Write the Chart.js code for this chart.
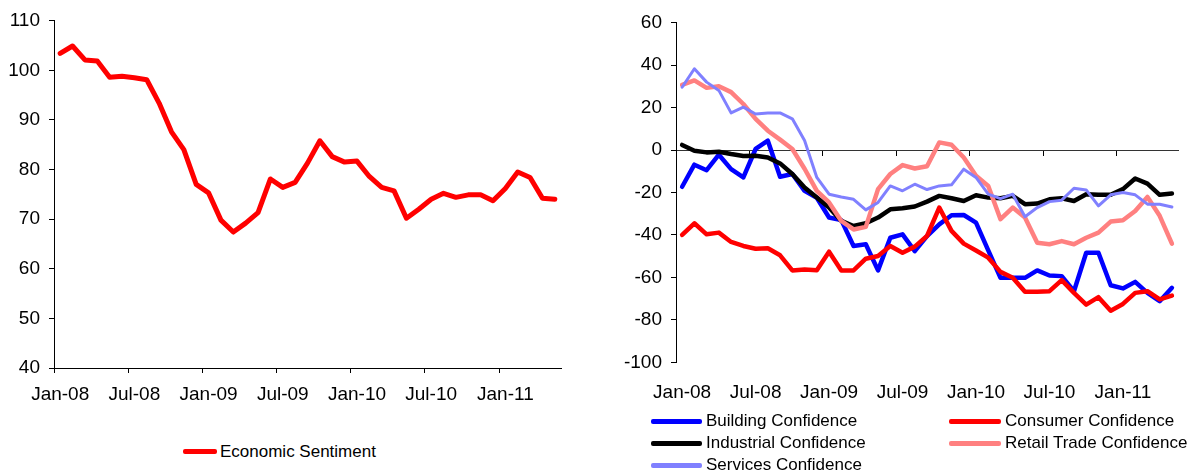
<!DOCTYPE html>
<html>
<head>
<meta charset="utf-8">
<script src="https://cdn.jsdelivr.net/npm/chart.js@4.4.1/dist/chart.umd.min.js"></script>
<style>
  html, body { margin: 0; padding: 0; background: #fff; }
  body { width: 1191px; height: 472px; position: relative; overflow: hidden; font-family: "Liberation Sans", Arial, sans-serif; }
  .cv { position: absolute; top: 0; }
  .lg { position: absolute; font-size: 17px; line-height: 22px; color: #000; white-space: nowrap; }
  .sw { position: absolute; height: 5px; border-radius: 2px; }
</style>
</head>
<body>
<canvas id="left" class="cv" style="left:0px" width="600" height="420"></canvas>
<canvas id="right" class="cv" style="left:600px" width="591" height="420"></canvas>
<div id="legends"></div>
<script>
// ---- Data ----
const months = ['Jan-08','Feb-08','Mar-08','Apr-08','May-08','Jun-08','Jul-08','Aug-08','Sep-08','Oct-08','Nov-08','Dec-08',
  'Jan-09','Feb-09','Mar-09','Apr-09','May-09','Jun-09','Jul-09','Aug-09','Sep-09','Oct-09','Nov-09','Dec-09',
  'Jan-10','Feb-10','Mar-10','Apr-10','May-10','Jun-10','Jul-10','Aug-10','Sep-10','Oct-10','Nov-10','Dec-10',
  'Jan-11','Feb-11','Mar-11','Apr-11','May-11'];

const economicSentiment = [103.4,104.9,102.1,101.9,98.6,98.8,98.5,98.1,93.4,87.6,84.0,77.0,75.3,69.8,67.4,69.2,71.3,78.1,76.4,77.4,
  81.3,85.8,82.6,81.5,81.7,78.6,76.4,75.7,70.2,72.0,74.0,75.2,74.4,74.9,74.9,73.7,76.2,79.5,78.4,74.2,74.0];

const buildingConfidence = [-17.3,-6.9,-9.5,-2.2,-9.0,-12.9,0.5,4.4,-12.6,-11.3,-19.2,-22.5,-31.8,-33.0,-45.2,-44.4,-56.7,-41.3,-39.7,-47.6,
  -40.5,-35.0,-30.7,-30.6,-34.2,-47.3,-60.2,-60.2,-60.2,-56.7,-59.1,-59.4,-66.5,-48.4,-48.4,-63.7,-65.2,-62.1,-67.3,-71.2,-64.9];

const consumerConfidence = [-40.0,-34.5,-39.7,-38.9,-43.3,-45.2,-46.5,-46.3,-49.6,-56.7,-56.3,-56.6,-47.9,-56.7,-56.7,-51.2,-49.9,-45.2,-48.4,-45.5,
  -40.5,-27.1,-38.1,-44.1,-47.3,-50.7,-57.4,-60.2,-66.8,-66.8,-66.5,-61.3,-67.3,-72.8,-69.3,-75.7,-72.5,-67.3,-66.5,-70.4,-68.6];

const industrialConfidence = [2.4,-0.3,-1.1,-0.8,-1.9,-2.8,-2.7,-3.5,-6.3,-11.3,-17.7,-22.4,-27.1,-33.4,-35.8,-34.5,-31.8,-27.9,-27.4,-26.6,
  -24.3,-21.6,-22.7,-24.0,-21.3,-22.4,-22.7,-21.6,-25.5,-25.2,-23.2,-22.7,-24.0,-20.8,-21.1,-21.1,-18.4,-13.4,-15.8,-21.1,-20.5];

const retailTradeConfidence = [30.7,32.8,29.3,30.1,27.3,21.7,14.7,9.1,4.9,0.5,-8.8,-19.2,-24.7,-33.4,-37.4,-36.2,-18.4,-11.3,-7.1,-8.7,
  -7.6,3.6,2.5,-3.5,-12.1,-16.9,-32.6,-27.1,-31.8,-43.7,-44.4,-42.9,-44.4,-41.3,-38.9,-33.7,-33.1,-28.7,-22.1,-31.0,-44.1];

const servicesConfidence = [29.6,38.3,32.0,28.1,17.5,20.2,17.0,17.5,17.5,14.7,4.5,-12.9,-20.8,-22.1,-23.2,-28.2,-24.7,-16.9,-19.2,-16.1,
  -18.6,-16.9,-16.4,-9.0,-12.9,-20.8,-22.9,-20.8,-31.4,-27.1,-24.3,-23.6,-18.0,-18.8,-26.3,-21.1,-20.0,-21.1,-25.5,-25.5,-26.8];

const leftSeriesNames = ['Economic Sentiment'];
const rightSeriesNames = ['Building Confidence','Consumer Confidence','Industrial Confidence','Retail Trade Confidence','Services Confidence'];

// ---- Styles ----
const FONT = '"Liberation Sans", Arial, sans-serif';
const tickFont = { family: FONT, size: 19 };
const AXIS = '#000';
const everySix = (c) => (c.index !== undefined && c.index % 6 === 0) ? AXIS : 'rgba(0,0,0,0)';
const labelEverySix = function (val, idx) { return idx % 6 === 0 ? this.getLabelForValue(val) : ''; };

function lineDs(label, data, color, width, order) {
  return { label, data, borderColor: color, backgroundColor: color, borderWidth: width,
    pointRadius: 0, pointHoverRadius: 0, tension: 0, fill: false,
    borderJoinStyle: 'round', borderCapStyle: 'round', order };
}

// ---- Left chart ----
new Chart(document.getElementById('left'), {
  type: 'line',
  data: { labels: months, datasets: [lineDs(leftSeriesNames[0], economicSentiment, '#FF0000', 5, 1)] },
  options: {
    responsive: false, animation: false, devicePixelRatio: 1,
    layout: { padding: { left: 0, right: 39, top: 20.7, bottom: 12 } },
    plugins: { legend: { display: false }, tooltip: { enabled: false } },
    scales: {
      x: {
        type: 'category', offset: true,
        grid: { offset: true, drawOnChartArea: false, drawTicks: true, tickLength: 5, color: everySix, lineWidth: 1 },
        border: { display: true, color: AXIS, width: 1 },
        ticks: { autoSkip: false, maxRotation: 0, minRotation: 0, color: '#000', font: tickFont, padding: 10, callback: labelEverySix },
        afterFit: (s) => { s.height = 40; }
      },
      y: {
        min: 40, max: 110,
        grid: { drawOnChartArea: false, drawTicks: true, tickLength: 5, color: AXIS },
        border: { display: true, color: AXIS, width: 1 },
        ticks: { stepSize: 10, color: '#000', font: tickFont, padding: 9 },
        afterFit: (s) => { s.width = 54; }
      }
    }
  }
});

// ---- Right chart ----
const rightColors = ['#0000FF', '#FF0000', '#000000', '#FF8080', '#8080FF'];
const rightWidths = [4.5, 4.5, 4.5, 4.5, 3];
const rightData = [buildingConfidence, consumerConfidence, industrialConfidence, retailTradeConfidence, servicesConfidence];

new Chart(document.getElementById('right'), {
  type: 'line',
  data: {
    labels: months,
    datasets: rightData.map((d, i) => lineDs(rightSeriesNames[i], d, rightColors[i], rightWidths[i], rightData.length - i))
  },
  options: {
    responsive: false, animation: false, devicePixelRatio: 1,
    layout: { padding: { left: 0, right: 6.3, top: 22.7, bottom: 12 } },
    plugins: { legend: { display: false }, tooltip: { enabled: false } },
    scales: {
      x: {
        type: 'category', offset: true, position: 'bottom',
        grid: { display: false, drawOnChartArea: false, drawTicks: false },
        border: { display: false },
        ticks: { autoSkip: false, maxRotation: 0, minRotation: 0, color: '#000', font: tickFont, padding: 19, callback: labelEverySix },
        afterFit: (s) => { s.height = 45.7; }
      },
      x0: {
        type: 'category', offset: true, position: { y: 0 },
        grid: { offset: true, drawOnChartArea: false, drawTicks: true, tickLength: 5, color: everySix, lineWidth: 1 },
        border: { display: true, color: '#333', width: 1 },
        ticks: { display: false, autoSkip: false }
      },
      y: {
        min: -100, max: 60,
        grid: { drawOnChartArea: false, drawTicks: true, tickLength: 5, color: AXIS },
        border: { display: true, color: AXIS, width: 1 },
        ticks: { stepSize: 20, color: '#000', font: tickFont, padding: 9 },
        afterFit: (s) => { s.width = 76; }
      }
    }
  }
});

// ---- Legends (HTML, built from the series arrays) ----
const lg = document.getElementById('legends');
function addLegendItem(name, color, x0, x1, textX, yc) {
  const sw = document.createElement('div');
  sw.className = 'sw';
  sw.style.left = x0 + 'px'; sw.style.width = (x1 - x0) + 'px';
  sw.style.top = (yc - 2.5) + 'px'; sw.style.background = color;
  lg.appendChild(sw);
  const t = document.createElement('div');
  t.className = 'lg';
  t.textContent = name;
  t.style.left = textX + 'px'; t.style.top = (yc - 11) + 'px';
  lg.appendChild(t);
}
addLegendItem(leftSeriesNames[0], '#FF0000', 183, 217, 220, 451.5);
const cols = [{ x0: 651, x1: 702, tx: 706 }, { x0: 949, x1: 1001, tx: 1005 }];
const rowsY = [421, 443, 465];
rightSeriesNames.forEach((n, i) => {
  const c = cols[i % 2];
  const r = rowsY[Math.floor(i / 2)];
  addLegendItem(n, rightColors[i], c.x0, c.x1, c.tx, r);
});
</script>
</body>
</html>
